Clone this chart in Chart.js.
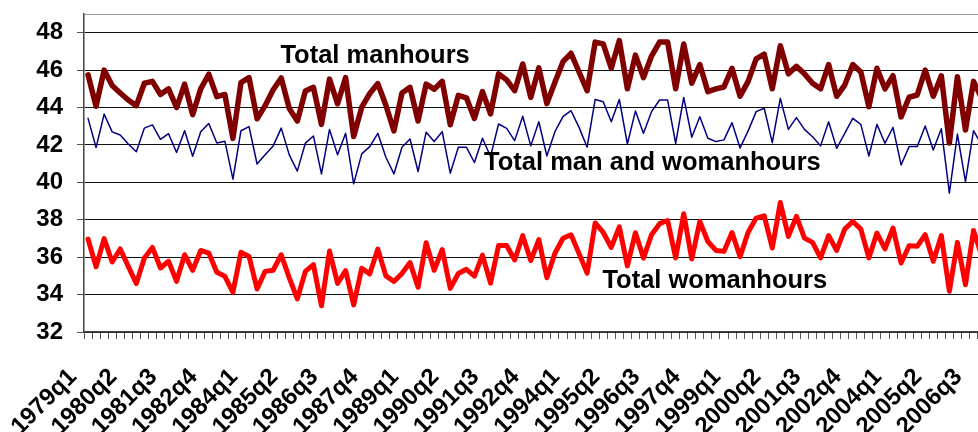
<!DOCTYPE html>
<html>
<head>
<meta charset="utf-8">
<title>Manhours and womanhours</title>
<script src="https://cdn.jsdelivr.net/npm/chart.js@4.4.1/dist/chart.umd.min.js"></script>
<style>
  html, body { margin: 0; padding: 0; background: #fff; width: 978px; height: 432px; overflow: hidden; }
  #wrap { position: relative; width: 990px; height: 432px; }
</style>
</head>
<body>
<div id="wrap"><canvas id="chart" width="990" height="432"></canvas></div>
<script>
// quarters 1979q1 .. 2006q4
const quarters = [];
for (let y = 1979; y <= 2006; y++) {
    for (let q = 1; q <= 4; q++) quarters.push(y + 'q' + q);
}

// y axis ticks (plot top sits at 49)
const yTicks = [32, 34, 36, 38, 40, 42, 44, 46, 48];
const yTop = 49;

// Total manhours
const manhours = [
    45.75, 44.07, 46.0, 45.18, 44.78, 44.4, 44.1, 45.3, 45.4, 44.7,
    45.0, 44.0, 45.25, 43.62, 45.0, 45.78, 44.58, 44.7, 42.35, 45.33,
    45.6, 43.4, 44.1, 44.95, 45.58, 43.95, 43.28, 44.88, 45.08, 43.1,
    45.52, 44.2, 45.6, 42.45, 44.02, 44.75, 45.28, 44.12, 42.75, 44.78,
    45.08, 43.28, 45.25, 44.98, 45.4, 43.08, 44.65, 44.52, 43.42, 44.85,
    43.66, 45.8, 45.48, 44.9, 46.33, 44.54, 46.12, 44.21, 45.35, 46.45,
    46.9, 45.9, 44.9, 47.5, 47.4, 46.1, 47.58, 45.0, 46.8, 45.6,
    46.75, 47.5, 47.5, 45.0, 47.4, 45.3, 46.3, 44.85, 45.0, 45.1,
    46.1, 44.6, 45.4, 46.6, 46.85, 45.0, 47.3, 45.8, 46.2, 45.8,
    45.3, 45.0, 46.3, 44.6, 45.2, 46.3, 45.9, 44.05, 46.1, 45.0,
    45.7, 43.5, 44.55, 44.67, 46.0, 44.6, 45.7, 42.1, 45.65, 42.8,
    45.4, 44.5
];

// Total man and womanhours
const allHours = [
    43.42, 41.86, 43.65, 42.7, 42.53, 42.05, 41.64, 42.9, 43.07, 42.3,
    42.6, 41.6, 42.76, 41.4, 42.7, 43.15, 42.1, 42.2, 40.17, 42.76,
    42.98, 40.98, 41.47, 41.95, 42.9, 41.47, 40.6, 42.1, 42.48, 40.45,
    42.83, 41.47, 42.62, 39.92, 41.52, 41.91, 42.62, 41.34, 40.45, 41.88,
    42.32, 40.58, 42.68, 42.18, 42.71, 40.49, 41.88, 41.88, 41.06, 42.36,
    41.38, 43.12, 42.89, 42.23, 43.53, 41.95, 43.24, 41.41, 42.71, 43.51,
    43.83, 42.94, 41.88, 44.43, 44.31, 43.24, 44.43, 42.05, 43.81, 42.62,
    43.78, 44.4, 44.4, 42.09, 44.54, 42.41, 43.51, 42.36, 42.18, 42.27,
    43.19, 41.84, 42.75, 43.78, 43.96, 42.12, 44.49, 42.83, 43.46, 42.83,
    42.44, 41.95, 43.24, 41.82, 42.62, 43.42, 43.1, 41.41, 43.1, 42.09,
    42.94, 40.93, 41.91, 41.91, 43.01, 41.73, 42.87, 39.42, 42.58, 40.04,
    42.76, 42.0
];

// Total womanhours
const womanhours = [
    36.97, 35.48, 36.99, 35.74, 36.44, 35.51, 34.59, 35.96, 36.52, 35.42,
    35.78, 34.71, 36.13, 35.3, 36.36, 36.22, 35.19, 34.98, 34.12, 36.26,
    36.04, 34.3, 35.24, 35.3, 36.13, 34.89, 33.77, 35.24, 35.6, 33.4,
    36.33, 34.6, 35.28, 33.45, 35.41, 35.11, 36.43, 35.0, 34.7, 35.13,
    35.71, 34.39, 36.77, 35.3, 36.41, 34.33, 35.13, 35.35, 34.99, 36.11,
    34.61, 36.62, 36.62, 35.85, 37.15, 35.82, 36.94, 34.9, 36.21, 37.01,
    37.2, 36.19, 35.15, 37.83, 37.32, 36.52, 37.62, 35.53, 37.31, 35.95,
    37.2, 37.79, 37.96, 35.96, 38.32, 35.9, 37.91, 36.84, 36.36, 36.31,
    37.32, 36.02, 37.33, 38.09, 38.21, 36.49, 38.92, 37.11, 38.18, 37.02,
    36.79, 35.96, 37.15, 36.36, 37.5, 37.91, 37.5, 35.96, 37.29, 36.44,
    37.56, 35.69, 36.61, 36.58, 37.2, 35.78, 37.15, 34.18, 36.79, 34.53,
    37.43, 36.1
];

// text labels inside the plot (category index, value)
const seriesNotes = [
    { text: 'Total manhours', at: 23.9, value: 46.75 },
    { text: 'Total man and womanhours', at: 49.2, value: 41.05 },
    { text: 'Total womanhours', at: 63.9, value: 34.75 }
];

const FONT = 'Arial, "Liberation Sans", sans-serif';

const notesPlugin = {
    id: 'notes',
    afterDatasetsDraw(chart) {
        const ctx = chart.ctx;
        const xs = chart.scales.x, ys = chart.scales.y;
        ctx.save();
        ctx.font = 'bold 25.5px ' + FONT;
        ctx.fillStyle = '#000';
        ctx.textAlign = 'left';
        ctx.textBaseline = 'middle';
        seriesNotes.forEach(n => {
            ctx.fillText(n.text, xs.getPixelForValue(n.at), ys.getPixelForValue(n.value));
        });
        ctx.restore();
    }
};

new Chart(document.getElementById('chart'), {
    type: 'line',
    data: {
        labels: quarters,
        datasets: [
            { label: 'Total manhours', data: manhours, borderColor: '#800000', borderWidth: 5.5 },
            { label: 'Total man and womanhours', data: allHours, borderColor: '#000080', borderWidth: 1.5 },
            { label: 'Total womanhours', data: womanhours, borderColor: '#ff0000', borderWidth: 5 }
        ]
    },
    options: {
        responsive: false,
        animation: false,
        devicePixelRatio: 1,
        elements: {
            point: { radius: 0 },
            line: { tension: 0, borderJoinStyle: 'round', borderCapStyle: 'round' }
        },
        layout: { padding: { top: 14, right: 4.4, left: 0, bottom: 0 } },
        plugins: { legend: { display: false }, tooltip: { enabled: false } },
        scales: {
            x: {
                offset: true,
                afterFit(scale) {
                    scale.height = 100;
                    scale.paddingLeft = 0;
                    scale.paddingRight = 0;
                },
                grid: { offset: true, drawOnChartArea: false, tickLength: 7, tickColor: '#555' },
                border: { color: '#444', width: 1.5 },
                ticks: {
                    autoSkip: false,
                    maxRotation: 45,
                    minRotation: 45,
                    padding: 24,
                    labelOffset: -15,
                    color: '#000',
                    font: { family: FONT, size: 24, weight: 'bold' },
                    callback: (v, i) => (i % 5 === 0 ? quarters[i] : '')
                }
            },
            y: {
                min: yTicks[0],
                max: yTop,
                afterBuildTicks(scale) {
                    scale.ticks = yTicks.concat([yTop]).map(v => ({ value: v }));
                },
                afterFit(scale) {
                    scale.width = 84;
                    scale.paddingTop = 0;
                    scale.paddingBottom = 0;
                },
                grid: {
                    color: c => (c.tick && c.tick.value === yTop ? '#999' : '#111'),
                    tickColor: c => (c.tick && c.tick.value === yTop ? 'rgba(0,0,0,0)' : '#555'),
                    tickLength: 7
                },
                border: { color: '#444', width: 1.5 },
                ticks: {
                    padding: 14,
                    color: '#000',
                    font: { family: FONT, size: 24, weight: 'bold' },
                    callback: v => (v === yTop ? '' : v)
                }
            }
        }
    },
    plugins: [notesPlugin]
});
</script>
</body>
</html>
